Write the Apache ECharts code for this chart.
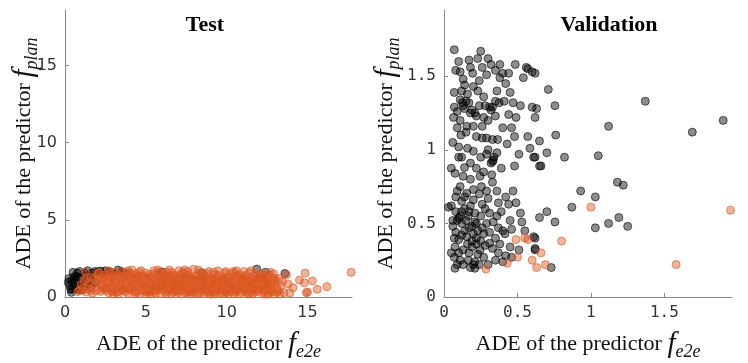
<!DOCTYPE html>
<html>
<head>
<meta charset="utf-8">
<script src="https://cdn.jsdelivr.net/npm/echarts@6/dist/echarts.min.js"></script>
<style>
  html, body { margin: 0; padding: 0; background: #fff; }
  #main { width: 748px; height: 363px; }
</style>
</head>
<body>
<div id="main"></div>
<script>
// Test panel: planning predictor only (black) and e2e predictor (orange)
var testBlack = [
  [0.3,0.75],[0.4,1.05],[0.5,0.9],[0.55,1.3],[0.62,0.6],[0.68,1.33],[0.75,1.55],[0.85,0.45],
  [0.92,0.67],[1.0,1.2],[1.1,0.85],[1.23,1.55],[1.3,1.0],[1.44,0.89],[1.5,1.35],[1.6,0.6],
  [1.74,1.33],[1.85,1.65],[2.05,1.64],[2.3,1.5],[2.5,1.7],[2.77,1.64],[3.0,1.5],[3.28,1.75],
  [3.5,1.65],[3.7,1.53],[0.2,0.95],[0.45,0.5],[0.7,0.8],[1.4,1.7],[11.86,1.81],[13.6,1.52],
  [12.4,1.6],[8.5,1.55],[6.0,1.62],
  [0.35,0.5],[0.5,1.6],[0.6,1.1],[0.8,1.3],[0.9,1.65],[1.05,0.45],[1.2,0.7],[1.35,1.4],
  [1.55,1.1],[1.65,1.55],[1.9,0.95],[2.2,1.68],[0.25,1.2],[0.4,0.3]
];
var testOrange = [
  [1.1,0.55],[1.3,0.32],[1.5,0.95],[1.6,0.41],[1.8,1.2],[1.9,0.7],[1.2,1.05],[1.7,0.25],[2.0,1.45],[2.1,1.57],
  [2.2,0.35],[2.3,0.8],[2.4,1.3],[2.5,0.55],[2.6,1.0],[2.7,0.28],[2.8,1.6],[2.9,0.65],[2.35,1.15],[2.75,0.9],[2.95,1.35],[2.55,0.42],
  [3.05,0.5],[3.1,1.1],[3.2,0.3],[3.3,1.45],[3.4,0.75],[3.5,1.25],[3.6,0.45],[3.7,0.95],[3.8,1.6],[3.9,0.22],[3.15,0.85],[3.45,1.65],[3.65,0.6],[3.85,1.15],[3.35,0.38],
  [4.05,1.3],[4.1,0.55],[4.2,0.9],[4.3,1.5],[4.4,0.3],[4.5,1.05],[4.6,0.7],[4.7,1.7],[4.8,0.45],[4.9,1.2],[4.15,1.75],[4.35,0.2],[4.55,1.4],[4.75,0.95],[4.95,0.6],[4.25,0.38],
  [5.0,1.55],[5.1,0.35],[5.2,0.85],[5.3,1.25],[5.4,0.5],[5.5,1.7],[5.6,0.25],[5.7,1.0],[5.8,0.65],[5.9,1.4],[5.05,1.1],[5.25,0.6],[5.45,1.5],[5.65,0.42],[5.85,1.15],[5.35,0.2],[5.75,1.75],
  [6.0,0.8],[6.1,1.3],[6.2,0.3],[6.3,1.6],[6.4,0.55],[6.5,1.05],[6.6,0.2],[6.7,1.45],[6.8,0.7],[6.9,1.2],[6.05,0.45],[6.25,0.95],[6.45,1.75],[6.65,0.85],[6.85,0.35],[6.15,1.55],[6.55,1.3],[6.95,0.6],
  [7.0,1.0],[7.1,0.4],[7.2,1.5],[7.3,0.75],[7.4,1.25],[7.5,0.25],[7.6,1.65],[7.7,0.55],[7.8,1.1],[7.9,0.85],[7.05,1.7],[7.25,0.2],[7.45,0.6],[7.65,1.4],[7.85,0.3],[7.15,0.9],[7.55,1.15],[7.95,1.8],
  [8.0,0.5],[8.1,1.35],[8.2,0.95],[8.3,0.25],[8.4,1.6],[8.5,0.7],[8.6,1.2],[8.7,0.4],[8.8,1.5],[8.9,0.85],[8.05,1.05],[8.25,1.75],[8.45,0.35],[8.65,0.6],[8.85,1.1],[8.15,0.2],[8.55,1.45],[8.95,0.3],
  [9.0,1.25],[9.1,0.55],[9.2,1.6],[9.3,0.3],[9.4,0.95],[9.5,1.4],[9.6,0.7],[9.7,1.1],[9.8,0.4],[9.9,1.55],[9.05,0.8],[9.25,0.2],[9.45,1.7],[9.65,0.45],[9.85,0.9],[9.35,1.2],[9.75,0.25],
  [10.0,0.6],[10.1,1.3],[10.2,0.35],[10.3,1.0],[10.4,1.65],[10.5,0.5],[10.6,1.15],[10.7,0.8],[10.8,1.45],[10.9,0.3],[10.05,0.95],[10.25,1.5],[10.45,0.2],[10.65,0.65],[10.85,1.2],[10.55,0.9],
  [11.0,1.05],[11.1,0.45],[11.2,1.4],[11.3,0.75],[11.4,0.25],[11.5,1.2],[11.6,0.6],[11.7,0.95],[11.8,1.5],[11.9,0.35],[11.05,1.65],[11.25,0.9],[11.45,0.55],[11.65,1.3],[11.85,0.7],[11.95,1.1],
  [12.0,0.5],[12.1,1.25],[12.2,0.8],[12.3,0.3],[12.4,1.0],[12.5,0.6],[12.6,1.45],[12.7,0.4],[12.8,0.9],[12.9,0.2],[12.15,1.55],[12.35,0.65],[12.55,1.15],[12.75,0.75],[12.95,1.05],[12.45,0.18],
  [13.1,0.55],[13.25,1.2],[13.35,0.71],[13.55,0.28],[13.7,1.45],[13.8,0.85],[13.9,0.26],[14.1,0.6],[14.5,1.1],[14.8,0.92],
  [14.85,1.55],[14.93,0.28],[15.0,0.32],[15.3,1.04],[15.6,0.5],[16.2,0.67],[17.7,1.6],[12.9,1.5],[11.97,1.1],[0.92,0.45],[2.1,1.57],
  [2.15,0.9],[2.45,0.6],[2.65,1.25],[2.85,0.4],[3.0,0.95],[3.25,1.3],[3.55,0.8],[3.75,0.35],[3.95,1.0],[4.0,0.7],
  [4.25,1.15],[4.45,0.85],[4.65,0.45],[4.85,1.35],[5.15,0.7],[5.3,0.95],[5.5,0.4],[5.55,1.2],[5.7,0.6],[5.95,0.9],
  [6.1,0.65],[6.3,1.1],[6.35,0.4],[6.6,0.95],[6.75,1.15],[6.9,0.5],[7.1,1.25],[7.2,0.65],[7.35,1.0],[7.5,0.8],
  [7.7,0.35],[7.75,1.3],[7.9,0.6],[8.1,0.75],[8.3,1.1],[8.35,0.5],[8.6,0.9],[8.75,1.3],[8.9,0.55],[9.1,1.05],
  [9.15,0.35],[9.35,0.65],[9.5,0.9],[9.55,0.5],[9.75,1.3],[9.9,0.75],[10.1,0.45],[10.2,1.15],[10.35,0.75],[10.6,0.4],
  [10.7,1.3],[10.9,0.95],[11.1,0.7],[11.2,0.3],[11.35,1.05],[11.55,0.85],[11.75,0.45],[11.9,1.25],[12.1,0.65],[12.25,1.05],
  [12.5,0.85],[12.65,0.55],[12.85,1.25],[13.0,0.85],[13.2,0.4],[13.45,1.0],[2.2,1.2],[1.95,0.4],[1.45,0.7],[1.35,1.25],
  [3.1,1.6],[4.05,1.55],[5.2,1.45],[6.2,1.45],[7.3,1.6],[8.2,1.45],[9.3,1.45],[10.5,1.55],[11.4,1.55],[12.3,1.4],
  [3.3,0.2],[4.6,0.22],[5.9,0.22],[7.0,0.28],[8.6,0.22],[9.6,0.22],[10.8,0.2],[11.6,0.2],[12.2,0.2],[4.4,1.2],
  [5.6,0.8],[6.5,0.75],[7.6,0.95],[8.45,1.0],[9.25,0.8],[10.25,0.6],[11.0,0.85],[6.8,1.0],[5.0,0.85],[4.0,0.45],
  [3.6,1.35],[2.5,1.45],
  [2.6,0.7],[2.9,1.15],[3.2,0.6],[3.4,1.05],[3.7,0.5],[3.9,1.3],[4.1,0.85],[4.3,0.6],[4.5,1.35],[4.7,1.05],
  [4.9,0.35],[5.1,1.3],[5.3,0.4],[5.5,1.05],[5.7,1.45],[5.9,0.55],[6.0,1.15],[6.2,0.7],[6.4,1.25],[6.55,0.5],
  [6.7,0.3],[6.85,1.4],[7.0,0.65],[7.2,0.95],[7.4,0.45],[7.55,1.45],[7.7,0.8],[7.85,1.2],[8.0,0.3],[8.2,1.2],
  [8.4,0.6],[8.5,1.25],[8.7,0.75],[8.8,0.3],[9.0,0.6],[9.2,1.2],[9.4,0.45],[9.6,1.05],[9.7,0.6],[9.9,0.35],
  [10.0,1.05],[10.2,0.8],[10.4,1.3],[10.5,0.3],[10.7,0.55],[10.9,1.35],[11.0,0.5],[11.2,1.2],[11.4,0.8],[11.6,1.05],
  [11.8,0.6],[12.0,1.35],[12.2,0.45],[12.4,0.75],[12.6,1.0],[12.8,0.35],[13.0,1.2],[13.1,0.3],[3.0,0.35],[3.5,0.55],
  [4.2,1.4],[4.8,0.8],[5.4,0.65],[6.1,0.95],[6.7,0.6],[7.3,1.35],[7.95,0.45],[8.6,1.05],[9.15,0.9],[9.8,1.2],
  [10.35,0.5],[11.05,1.25],[11.7,0.3],[12.35,1.2],[2.3,0.5],[2.0,0.95],[1.6,1.3],[1.4,0.5],[1.0,0.8],[0.8,0.35],
  [5.8,1.6],[6.6,1.6],[8.9,1.65],[9.95,1.65],[4.6,1.6],[3.9,1.7],[7.4,1.75],[10.6,1.7],[11.5,1.7],[12.7,1.6],
  [2.7,1.7],[1.25,1.6],[3.0,0.2],[5.0,0.2],[6.3,0.22],[7.8,0.2],[9.0,0.18],[10.1,0.2],[11.3,0.2],[12.6,0.2],
  [13.3,0.2],[5.25,0.3],[7.6,0.3],[10.0,0.28]
];

// Validation panel
var valBlack = [
  [1.37,1.33],[1.90,1.20],[1.69,1.12],[1.12,1.16],[1.05,0.96],[0.82,0.95],[0.93,0.72],[1.03,0.68],
  [1.18,0.78],[1.22,0.76],[0.87,0.61],[0.70,0.58],[0.65,0.54],[0.755,0.51],[1.03,0.47],[1.12,0.50],
  [1.19,0.54],[1.25,0.48],[0.73,0.20],[0.755,1.30],[0.71,1.41],[0.76,1.10],[0.65,1.06],[0.70,0.98],
  [0.66,0.89],[0.62,1.52],[0.63,1.28],[0.62,1.22],[0.62,0.95],[0.62,0.40],[0.62,0.33],
  [0.07,1.68],[0.25,1.67],[0.10,1.60],[0.17,1.61],[0.23,1.62],[0.32,1.58],[0.08,1.54],[0.11,1.53],
  [0.195,1.52],[0.26,1.56],[0.35,1.54],[0.40,1.52],[0.44,1.52],[0.485,1.58],[0.56,1.56],[0.57,1.55],
  [0.60,1.53],[0.54,1.49],[0.29,1.51],[0.38,1.49],[0.24,1.47],[0.14,1.44],[0.20,1.43],[0.45,1.39],
  [0.41,1.33],[0.07,1.39],[0.11,1.34],[0.125,1.32],[0.07,1.29],[0.17,1.32],[0.19,1.27],[0.27,1.36],
  [0.31,1.29],[0.32,1.27],[0.35,1.23],[0.375,1.32],[0.47,1.32],[0.60,1.29],[0.49,1.22],[0.44,1.24],
  [0.065,1.22],[0.11,1.20],[0.09,1.15],[0.155,1.16],[0.20,1.16],[0.26,1.16],[0.115,1.10],[0.10,1.02],
  [0.16,1.01],[0.20,0.99],[0.26,1.08],[0.29,1.08],[0.33,1.07],[0.365,1.07],[0.43,1.04],[0.48,1.09],
  [0.57,1.09],[0.51,0.97],[0.585,1.01],[0.61,0.95],[0.65,0.89],[0.48,0.89],[0.39,0.875],[0.335,0.93],
  [0.32,0.91],[0.29,0.97],[0.18,0.91],[0.22,0.875],[0.05,0.875],[0.075,0.84],[0.13,0.82],[0.18,0.80],
  [0.245,0.82],[0.325,0.83],[0.27,0.85],
  [0.11,0.75],[0.155,0.705],[0.255,0.75],[0.36,0.72],[0.08,0.68],[0.12,0.65],[0.20,0.66],[0.30,0.67],
  [0.37,0.64],[0.44,0.63],[0.49,0.64],[0.03,0.61],[0.06,0.52],[0.10,0.535],[0.12,0.50],[0.165,0.55],
  [0.21,0.51],[0.31,0.57],[0.335,0.51],[0.39,0.58],[0.45,0.52],[0.52,0.57],[0.53,0.51],[0.46,0.46],
  [0.415,0.43],[0.37,0.47],[0.27,0.43],[0.20,0.43],[0.155,0.41],[0.10,0.39],[0.075,0.34],[0.13,0.32],
  [0.19,0.34],[0.245,0.32],[0.31,0.365],[0.37,0.30],[0.45,0.34],[0.51,0.32],[0.61,0.41],[0.62,0.32],
  [0.07,0.27],[0.11,0.25],[0.165,0.25],[0.20,0.22],[0.075,0.195],[0.21,0.195],[0.30,0.22],[0.35,0.25],
  [0.40,0.24],[0.46,0.27],
  [0.13,1.30],[0.14,1.28],[0.21,1.25],[0.22,1.23],[0.15,1.33],[0.33,1.29],[0.34,0.95],[0.33,0.92],
  [0.09,0.52],[0.11,0.55],[0.14,0.45],[0.17,0.47],[0.19,0.38],[0.22,0.40],[0.16,0.36],[0.23,0.29],
  [0.21,0.24],[0.06,0.48],[0.25,0.55],[0.28,0.60],[0.14,0.60],[0.18,0.62],[0.24,0.70],[0.09,0.72],
  [0.06,1.05],[0.12,0.95],[0.23,1.40],[0.36,1.40],[0.30,1.20],[0.40,1.15],[0.22,0.36],[0.26,0.47],
  [0.08,0.58],[0.12,0.42],[0.15,0.52],[0.17,0.30],[0.19,0.48],[0.21,0.57],[0.23,0.45],[0.25,0.38],
  [0.27,0.27],[0.08,0.44],[0.10,0.30],[0.13,0.22],[0.18,0.20],[0.24,0.22],[0.26,0.63],[0.29,0.50],
  [0.31,0.44],[0.33,0.33],[0.35,0.40],[0.38,0.36],[0.40,0.45],[0.42,0.28],[0.05,0.62],[0.07,0.40],
  [0.14,0.68],[0.20,0.73],[0.29,0.72],[0.33,0.78],[0.12,1.40],[0.16,1.38],[0.18,1.25],[0.24,1.30],
  [0.27,1.22],[0.09,1.26],[0.15,1.12],[0.22,1.09],[0.28,1.30],[0.35,1.33],[0.30,1.00],[0.36,0.98],
  [0.25,0.95],[0.14,0.88],[0.10,0.95],[0.42,1.45],[0.38,1.58],[0.30,1.62],[0.18,1.56],[0.13,1.48],
  [0.46,1.15],[0.52,1.30],[0.47,0.72],[0.42,0.68],[0.55,0.45],[0.05,0.30],[0.09,0.22],[0.28,0.35],
  [0.36,0.55],[0.17,0.58],[0.22,0.50],[0.12,0.58]
];
var valOrange = [
  [0.285,0.19],[0.43,0.23],[0.50,0.27],[0.49,0.39],[0.55,0.40],[0.57,0.39],[0.60,0.25],
  [0.66,0.30],[0.63,0.20],[0.69,0.22],[0.80,0.38],[1.00,0.61],[1.58,0.22],[1.95,0.59]
];

var testTicks = [0, 5, 10, 15];
var valTicks = [0, 0.5, 1, 1.5];

var blackStyle = { color: 'rgba(0,0,0,0.56)', borderColor: 'rgba(0,0,0,0.75)', borderWidth: 1 };
var orangeStyle = { color: 'rgba(217,83,25,0.55)', borderColor: 'rgba(224,96,47,0.85)', borderWidth: 1 };

var serif = 'Liberation Serif';

function axisName(sub) {
  return '{a|ADE of the predictor }{f|f}{s|' + sub + '}';
}
var nameRich = {
  a: { fontFamily: serif, fontSize: 22, color: '#111' },
  f: { fontFamily: serif, fontSize: 29, fontStyle: 'italic', color: '#111' },
  s: { fontFamily: serif, fontSize: 18, fontStyle: 'italic', color: '#111', padding: [16, 0, 0, 0] }
};

function valueAxis(max, ticks, font, name, gap, idx) {
  return {
    type: 'value',
    gridIndex: idx,
    min: 0,
    max: max,
    name: name,
    nameLocation: 'middle',
    nameGap: gap,
    nameMoveOverlap: false,
    nameTextStyle: { rich: nameRich },
    axisLine: { show: true, lineStyle: { color: '#888', width: 1 } },
    axisTick: { show: true, inside: true, length: 4, customValues: ticks, lineStyle: { color: '#888' } },
    axisLabel: { customValues: ticks, fontFamily: font, fontSize: 16, color: '#333', margin: 8 },
    splitLine: { show: false }
  };
}

var chart = echarts.init(document.getElementById('main'));
chart.setOption({
  backgroundColor: '#fff',
  animation: false,
  title: [
    { text: 'Test', left: 200, top: 9, textAlign: 'center',
      textStyle: { fontFamily: serif, fontWeight: 'bold', fontSize: 22, color: '#000' } },
    { text: 'Validation', left: 604, top: 9, textAlign: 'center',
      textStyle: { fontFamily: serif, fontWeight: 'bold', fontSize: 22, color: '#000' } }
  ],
  grid: [
    { left: 65, top: 10, width: 287, height: 287, outerBoundsMode: 'none' },
    { left: 444, top: 10, width: 288, height: 287, outerBoundsMode: 'none' }
  ],
  xAxis: [
    valueAxis(17.75, testTicks, 'DejaVu Sans', axisName('e2e'), 30, 0),
    valueAxis(1.96, valTicks, 'DejaVu Sans Mono', axisName('e2e'), 30, 1)
  ],
  yAxis: [
    valueAxis(18.6, testTicks, 'DejaVu Sans', axisName('plan'), 24, 0),
    valueAxis(1.95, valTicks, 'DejaVu Sans Mono', axisName('plan'), 41, 1)
  ],
  series: [
    { type: 'scatter', xAxisIndex: 0, yAxisIndex: 0, symbolSize: 8, itemStyle: blackStyle, data: testBlack },
    { type: 'scatter', xAxisIndex: 0, yAxisIndex: 0, symbolSize: 8, itemStyle: orangeStyle, data: testOrange },
    { type: 'scatter', xAxisIndex: 1, yAxisIndex: 1, symbolSize: 8, itemStyle: blackStyle, data: valBlack },
    { type: 'scatter', xAxisIndex: 1, yAxisIndex: 1, symbolSize: 8, itemStyle: orangeStyle, data: valOrange }
  ]
});
</script>
</body>
</html>
